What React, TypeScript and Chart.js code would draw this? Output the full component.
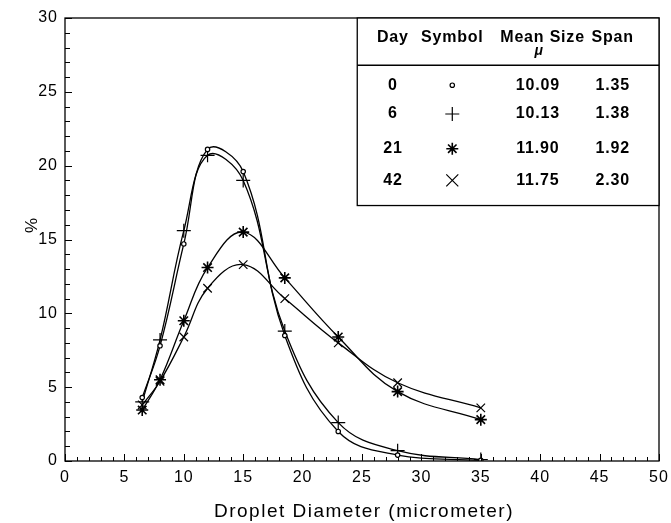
import React, { useEffect, useRef } from "react";
import { Chart, registerables } from "chart.js";

Chart.register(...registerables);

const diameters = [6.5, 8, 10, 12, 15, 18.5, 23, 28, 35];
const day0 = [4.3, 7.8, 14.7, 21.1, 19.6, 8.5, 2.0, 0.4, 0.05];
const day6 = [4.0, 8.2, 15.6, 20.7, 19.0, 8.8, 2.6, 0.7, 0.1];
const day21 = [3.45, 5.5, 9.5, 13.1, 15.5, 12.4, 8.4, 4.7, 2.8];
const day42 = [3.8, 5.4, 8.4, 11.7, 13.3, 11.0, 8.0, 5.3, 3.6];

const tableDays = ["0", "6", "21", "42"];
const tableMeans = ["10.09", "10.13", "11.90", "11.75"];
const tableSpans = ["1.35", "1.38", "1.92", "2.30"];
const tableSymbols = ["circle", "cross", "star", "crossRot"];

const xTitle = "Droplet Diameter (micrometer)";
const yTitle = "%";

const FONT = "'Liberation Sans', Arial, Helvetica, sans-serif";

function drawSymbol(ctx: CanvasRenderingContext2D, kind: string, x: number, y: number) {
  ctx.save();
  ctx.strokeStyle = "#000";
  ctx.lineWidth = 1.2;
  ctx.beginPath();
  if (kind === "circle") {
    ctx.fillStyle = "#fff";
    ctx.arc(x, y, 2.2, 0, Math.PI * 2);
    ctx.fill();
    ctx.stroke();
  } else if (kind === "cross") {
    const r = 7;
    ctx.moveTo(x - r, y); ctx.lineTo(x + r, y);
    ctx.moveTo(x, y - r); ctx.lineTo(x, y + r);
    ctx.stroke();
  } else if (kind === "star") {
    const r = 6;
    for (let i = 0; i < 4; i++) {
      const a = (i * Math.PI) / 4;
      ctx.moveTo(x - r * Math.cos(a), y - r * Math.sin(a));
      ctx.lineTo(x + r * Math.cos(a), y + r * Math.sin(a));
    }
    ctx.lineWidth = 1.6;
    ctx.stroke();
  } else {
    const r = 6;
    ctx.moveTo(x - r, y - r); ctx.lineTo(x + r, y + r);
    ctx.moveTo(x - r, y + r); ctx.lineTo(x + r, y - r);
    ctx.stroke();
  }
  ctx.restore();
}

const spacingPlugin = {
  id: "spacing",
  beforeInit(chart: any) {
    (chart.ctx as any).letterSpacing = "1px";
  },
  beforeDraw(chart: any) {
    (chart.ctx as any).letterSpacing = "1px";
  },
};

const framePlugin = {
  id: "frameTicks",
  afterDraw(chart: any) {
    const { ctx, chartArea, scales } = chart;
    const xs = scales.x;
    const ys = scales.y;
    ctx.save();
    ctx.strokeStyle = "#000";
    ctx.lineWidth = 1.3;
    ctx.strokeRect(chartArea.left, chartArea.top, chartArea.right - chartArea.left, chartArea.bottom - chartArea.top);
    ctx.lineWidth = 1;
    ctx.beginPath();
    for (let v = 0; v <= 50; v++) {
      const px = Math.round(xs.getPixelForValue(v)) + 0.5;
      const len = v % 5 === 0 ? 7 : 4;
      ctx.moveTo(px, chartArea.bottom);
      ctx.lineTo(px, chartArea.bottom - len);
    }
    for (let v = 0; v <= 30; v++) {
      const py = Math.round(ys.getPixelForValue(v)) + 0.5;
      const len = v % 5 === 0 ? 7 : 5;
      ctx.moveTo(chartArea.left, py);
      ctx.lineTo(chartArea.left + len, py);
    }
    ctx.stroke();

    // axis titles
    ctx.fillStyle = "#000";
    ctx.textAlign = "center";
    ctx.textBaseline = "middle";
    ctx.font = `19px ${FONT}`;
    (ctx as any).letterSpacing = "1.5px";
    ctx.fillText(xTitle, (chartArea.left + chartArea.right) / 2 + 2, chartArea.bottom + 51);
    ctx.save();
    ctx.translate(chartArea.left - 33, ys.getPixelForValue(16.0));
    ctx.rotate(-Math.PI / 2);
    ctx.font = `17px ${FONT}`;
    ctx.fillText(yTitle, 0, 0);
    ctx.restore();

    // legend table
    const left = xs.getPixelForValue(24.6);
    const right = chartArea.right;
    const top = chartArea.top;
    const bottom = ys.getPixelForValue(17.3);
    ctx.fillStyle = "#fff";
    ctx.fillRect(left, top, right - left, bottom - top);
    ctx.lineWidth = 1.3;
    ctx.strokeRect(left, top, right - left, bottom - top);
    const sepY = ys.getPixelForValue(26.8);
    ctx.beginPath();
    ctx.moveTo(left, sepY);
    ctx.lineTo(right, sepY);
    ctx.stroke();

    const colDay = xs.getPixelForValue(27.6);
    const colSym = xs.getPixelForValue(32.6);
    const colMean = xs.getPixelForValue(40.2);
    const colSpan = xs.getPixelForValue(46.1);
    ctx.fillStyle = "#000";
    ctx.font = `bold 16px ${FONT}`;
    (ctx as any).letterSpacing = "0.8px";
    ctx.textAlign = "center";
    ctx.textBaseline = "middle";
    const headY = ys.getPixelForValue(28.65);
    ctx.fillText("Day", colDay, headY);
    ctx.fillText("Symbol", colSym, headY);
    ctx.fillText("Mean Size", colMean, headY);
    ctx.fillText("Span", colSpan, headY);
    ctx.font = `bold italic 14px ${FONT}`;
    ctx.fillText("\u03bc", xs.getPixelForValue(39.9), ys.getPixelForValue(27.75));
    ctx.font = `bold 16px ${FONT}`;
    const rowVals = [25.45, 23.5, 21.15, 19.0];
    for (let i = 0; i < tableDays.length; i++) {
      const ry = ys.getPixelForValue(rowVals[i]);
      ctx.fillText(tableDays[i], colDay, ry);
      ctx.fillText(tableMeans[i], xs.getPixelForValue(39.8), ry);
      ctx.fillText(tableSpans[i], colSpan, ry);
      drawSymbol(ctx, tableSymbols[i], colSym, ry);
    }
    ctx.restore();
  },
};

export default function App() {
  const ref = useRef<HTMLCanvasElement | null>(null);
  useEffect(() => {
    document.body.style.margin = "0";
    const mk = (label: string, data: number[], style: string, radius: number, bw: number) => ({
      label,
      data: diameters.map((d, i) => ({ x: d, y: data[i] })),
      borderColor: "#000",
      backgroundColor: "#fff",
      borderWidth: 1.3,
      pointStyle: style,
      pointRadius: radius,
      pointBorderWidth: bw,
      pointBorderColor: "#000",
      pointBackgroundColor: "#fff",
      tension: 0.4,
      fill: false,
    });
    const chart = new Chart(ref.current!, {
      type: "line",
      data: {
        datasets: [
          mk("Day 0", day0, "circle", 2.2, 1.2),
          mk("Day 6", day6, "cross", 7, 1.2),
          mk("Day 21", day21, "star", 6, 1.6),
          mk("Day 42", day42, "crossRot", 6, 1.2),
        ],
      },
      options: {
        animation: false,
        responsive: false,
        maintainAspectRatio: false,
        layout: { padding: { top: 18, right: 12, left: 0, bottom: 0 } },
        plugins: { legend: { display: false }, tooltip: { enabled: false } },
        scales: {
          x: {
            type: "linear",
            min: 0,
            max: 50,
            grid: { display: false, drawTicks: false },
            border: { display: false },
            ticks: {
              stepSize: 5,
              color: "#000",
              font: { family: FONT, size: 16 },
              padding: 7,
              maxRotation: 0,
            },
            title: { display: false },
            afterFit: (s: any) => {
              s.height = 62;
              s.paddingLeft = 0;
              s.paddingRight = 0;
            },
          },
          y: {
            type: "linear",
            min: 0,
            max: 30,
            grid: { display: false, drawTicks: false },
            border: { display: false },
            ticks: {
              stepSize: 5,
              color: "#000",
              font: { family: FONT, size: 16 },
              padding: 7,
            },
            title: { display: false },
            afterFit: (s: any) => {
              s.width = 65;
              s.paddingTop = 0;
              s.paddingBottom = 0;
            },
          },
        },
      } as any,
      plugins: [spacingPlugin, framePlugin],
    });
    return () => chart.destroy();
  }, []);
  return (
    <div style={{ width: 671, height: 523, background: "#fff" }}>
      <canvas ref={ref} width={671} height={523} style={{ display: "block" }} />
    </div>
  );
}
